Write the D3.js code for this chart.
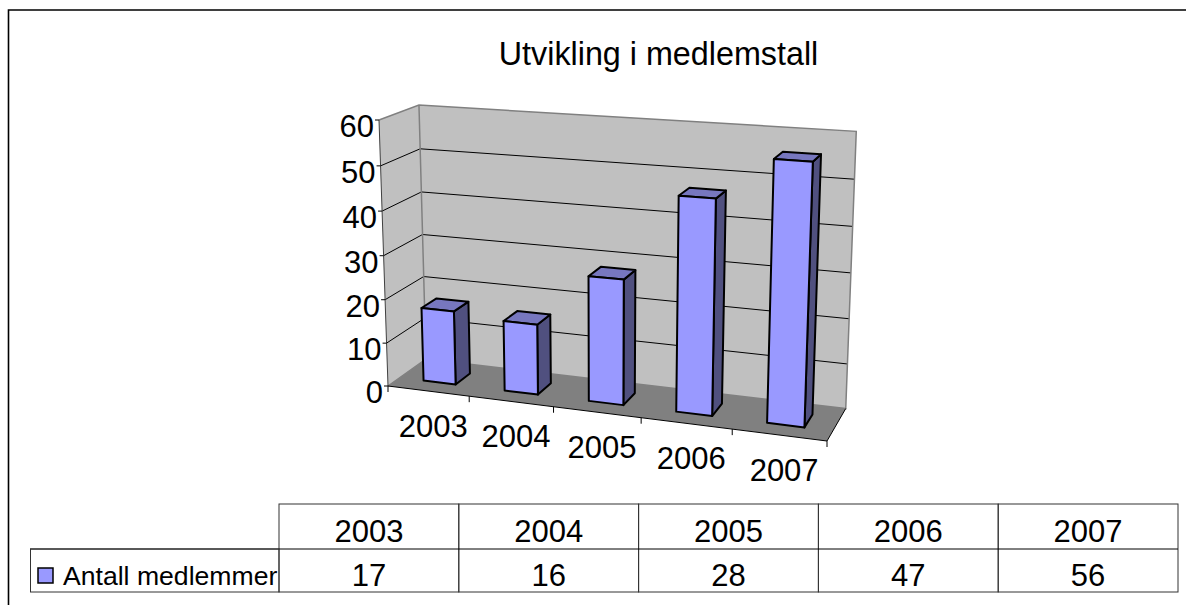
<!DOCTYPE html>
<html>
<head>
<meta charset="utf-8">
<script src="https://cdn.jsdelivr.net/npm/d3@7"></script>
<style>
    html, body { margin: 0; padding: 0; background: #fff; }
    svg { display: block; }
    text { font-family: "Liberation Sans", Arial, sans-serif; fill: #000; }
</style>
</head>
<body>
<div id="chart"></div>
<script>
const title = 'Utvikling i medlemstall';
const years = ['2003', '2004', '2005', '2006', '2007'];
const members = [17, 16, 28, 47, 56];
const yTicks = [0, 10, 20, 30, 40, 50, 60];
const seriesName = 'Antall medlemmer';

const width = 1186;
const height = 605;

const chart = d3.select('#chart')
    .append('svg')
    .attr('width', width)
    .attr('height', height);

// Scales give box coordinates from 0 to 1
const x = d3.scaleBand().domain(years).range([0, 1]).paddingInner(0.6).paddingOuter(0.3);
const xCell = d3.scaleBand().domain(years).range([0, 1]);
const y = d3.scaleLinear().domain([0, 60]).range([0, 1]);
const depth = d3.scaleLinear().domain([0, 1]).range([0.3, 0.7]);

// Perspective of the 3d box, set from its visible corners
const origin = [388, 386];
const frontRight = [827, 441];
const topLeft = [379, 120];
const backLeft = [426, 359];
const pu = -0.092, pv = -0.04, pw = 0.05;

const project = (u, v, w) => {
    const d = 1 + pu * u + pv * v + pw * w;
    return [0, 1].map(i => {
        const a = frontRight[i] * (1 + pu) - origin[i];
        const b = topLeft[i] * (1 + pv) - origin[i];
        const c = backLeft[i] * (1 + pw) - origin[i];
        return (origin[i] + a * u + b * v + c * w) / d;
    });
};

const line = d3.line();
const poly = pts => line(pts) + 'Z';

// Walls and floor
const box = chart.append('g').attr('class', 'box');

box.append('path')
    .attr('d', poly([project(0, 0, 0), project(0, 1, 0), project(0, 1, 1), project(0, 0, 1)]))
    .attr('fill', '#c0c0c0');

box.append('path')
    .attr('d', poly([project(0, 0, 1), project(0, 1, 1), project(1, 1, 1), project(1, 0, 1)]))
    .attr('fill', '#c0c0c0');

box.append('path')
    .attr('d', poly([project(0, 0, 0), project(1, 0, 0), project(1, 0, 1), project(0, 0, 1)]))
    .attr('fill', '#808080');

// Gridlines
box.selectAll('.grid')
    .data(yTicks.filter(d => d > 0 && d < 60))
    .join('path')
    .attr('class', 'grid')
    .attr('d', d => line([project(0, y(d), 0), project(0, y(d), 1), project(1, y(d), 1)]))
    .attr('fill', 'none')
    .attr('stroke', '#000')
    .attr('stroke-width', 1);

// Grey wall edges
box.append('path')
    .attr('d', line([project(0, 1, 0), project(0, 1, 1), project(1, 1, 1), project(1, 0, 1), project(0, 0, 1), project(0, 0, 0)]))
    .attr('fill', 'none')
    .attr('stroke', '#808080')
    .attr('stroke-width', 1.5);

box.append('path')
    .attr('d', line([project(0, 1, 1), project(0, 0, 1)]))
    .attr('stroke', '#808080')
    .attr('stroke-width', 1.5);

box.append('path')
    .attr('d', line([project(1, 0, 1), project(1, 0, 0)]))
    .attr('stroke', '#000')
    .attr('stroke-width', 1);

// Y axis
const yAxis = chart.append('g').attr('class', 'y-axis');

yAxis.append('path')
    .attr('d', line([project(0, 1, 0), project(0, 0, 0)]))
    .attr('stroke', '#404040')
    .attr('stroke-width', 1);

const yTick = yAxis.selectAll('g').data(yTicks).join('g');

yTick.append('path')
    .attr('d', d => {
        const p = project(0, y(d), 0);
        return line([[p[0] - 4, p[1]], p]);
    })
    .attr('stroke', '#000');

yTick.append('text')
    .attr('x', d => project(0, y(d), 0)[0] - 5)
    .attr('y', d => project(0, y(d), 0)[1] + 17)
    .attr('text-anchor', 'end')
    .attr('font-size', 31)
    .text(d => d);

// X axis
const xAxis = chart.append('g').attr('class', 'x-axis');

xAxis.append('path')
    .attr('d', line([project(0, 0, 0), project(1, 0, 0)]))
    .attr('stroke', '#000')
    .attr('stroke-width', 1);

xAxis.selectAll('.tick')
    .data([0, 1, 2, 3, 4, 5])
    .join('path')
    .attr('class', 'tick')
    .attr('d', d => {
        const p = project(d / 5, 0, 0);
        return line([p, [p[0], p[1] + 6]]);
    })
    .attr('stroke', '#000');

xAxis.selectAll('text')
    .data(years)
    .join('text')
    .attr('x', d => project(xCell(d) + xCell.bandwidth() / 2, 0, 0)[0] + 5)
    .attr('y', d => project(xCell(d) + xCell.bandwidth() / 2, 0, 0)[1] + 46)
    .attr('text-anchor', 'middle')
    .attr('font-size', 31)
    .text(d => d);

// Bars, each one three faces
const bars = chart.append('g')
    .attr('class', 'bars')
    .selectAll('g')
    .data(years.map((year, i) => ({ year, value: members[i] })))
    .join('g')
    .attr('fill', 'none')
    .attr('stroke', '#000')
    .attr('stroke-width', 2)
    .attr('stroke-linejoin', 'round');

const x0 = d => x(d.year);
const x1 = d => x(d.year) + x.bandwidth();

bars.append('path')
    .attr('fill', '#50507f')
    .attr('d', d => poly([project(x1(d), 0, depth(0)), project(x1(d), y(d.value), depth(0)), project(x1(d), y(d.value), depth(1)), project(x1(d), 0, depth(1))]));

bars.append('path')
    .attr('fill', '#7777bf')
    .attr('d', d => poly([project(x0(d), y(d.value), depth(0)), project(x1(d), y(d.value), depth(0)), project(x1(d), y(d.value), depth(1)), project(x0(d), y(d.value), depth(1))]));

bars.append('path')
    .attr('fill', '#9999ff')
    .attr('d', d => poly([project(x0(d), 0, depth(0)), project(x1(d), 0, depth(0)), project(x1(d), y(d.value), depth(0)), project(x0(d), y(d.value), depth(0))]));

// Title
chart.append('text')
    .attr('x', 658.5)
    .attr('y', 65)
    .attr('text-anchor', 'middle')
    .attr('font-size', 32.3)
    .text(title);

// Data table
const tableX = d3.scaleBand().domain(years).range([279, 1178]);
const rowTop = 504, rowMid = 549, rowBottom = 592;
const table = chart.append('g').attr('class', 'data-table');

table.selectAll('.cell')
    .data(years)
    .join('rect')
    .attr('class', 'cell')
    .attr('x', d => tableX(d))
    .attr('y', rowTop)
    .attr('width', tableX.bandwidth())
    .attr('height', rowBottom - rowTop)
    .attr('fill', 'none')
    .attr('stroke', '#333');

table.append('path')
    .attr('d', line([[30, rowMid], [1178, rowMid]]))
    .attr('stroke', '#000');

table.append('rect')
    .attr('x', 30.5)
    .attr('y', rowMid)
    .attr('width', 248.5)
    .attr('height', rowBottom - rowMid)
    .attr('fill', 'none')
    .attr('stroke', '#333');

table.append('rect')
    .attr('x', 38)
    .attr('y', 568)
    .attr('width', 15)
    .attr('height', 15)
    .attr('fill', '#9999ff')
    .attr('stroke', '#000')
    .attr('stroke-width', 1.5);

table.append('text')
    .attr('x', 63)
    .attr('y', 585)
    .attr('font-size', 26.6)
    .text(seriesName);

table.selectAll('.year')
    .data(years)
    .join('text')
    .attr('class', 'year')
    .attr('x', d => tableX(d) + tableX.bandwidth() / 2)
    .attr('y', 542)
    .attr('text-anchor', 'middle')
    .attr('font-size', 31)
    .text(d => d);

table.selectAll('.value')
    .data(members)
    .join('text')
    .attr('class', 'value')
    .attr('x', (d, i) => tableX(years[i]) + tableX.bandwidth() / 2)
    .attr('y', 586)
    .attr('text-anchor', 'middle')
    .attr('font-size', 31)
    .text(d => d);

// Outer frame
chart.append('path')
    .attr('d', line([[8.5, 605], [8.5, 10], [1186, 10]]))
    .attr('fill', 'none')
    .attr('stroke', '#000')
    .attr('stroke-width', 1.6);
</script>
</body>
</html>
